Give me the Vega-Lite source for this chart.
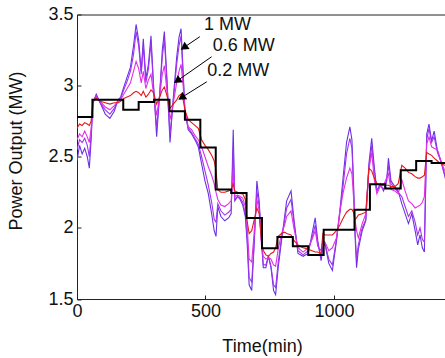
{
  "$schema": "https://vega.github.io/schema/vega-lite/v6.json",
  "width": 370,
  "height": 284.5,
  "autosize": "none",
  "padding": {"left": 77, "top": 14.5, "right": 0, "bottom": 59},
  "background": "white",
  "config": {
    "view": {"stroke": "#222", "strokeWidth": 1},
    "axis": {
      "labelFont": "Liberation Sans",
      "titleFont": "Liberation Sans",
      "labelFontSize": 18,
      "titleFontSize": 18,
      "labelColor": "#111",
      "titleColor": "#111",
      "titleFontWeight": "normal",
      "domainColor": "#222",
      "tickColor": "#222",
      "tickSize": -4,
      "grid": false
    }
  },
  "datasets": {
    "series": [
      {"t": 0, "A": 2.47, "B": 2.55, "C": 2.62, "D": 2.70},
      {"t": 10, "A": 2.58, "B": 2.62, "C": 2.66, "D": 2.73},
      {"t": 20, "A": 2.52, "B": 2.60, "C": 2.64, "D": 2.72},
      {"t": 30, "A": 2.56, "B": 2.63, "C": 2.68, "D": 2.74},
      {"t": 40, "A": 2.50, "B": 2.58, "C": 2.64, "D": 2.73},
      {"t": 48, "A": 2.42, "B": 2.50, "C": 2.60, "D": 2.72},
      {"t": 55, "A": 2.62, "B": 2.66, "C": 2.70, "D": 2.75},
      {"t": 62, "A": 2.88, "B": 2.88, "C": 2.89, "D": 2.90},
      {"t": 75, "A": 2.94, "B": 2.93, "C": 2.92, "D": 2.91},
      {"t": 90, "A": 2.88, "B": 2.88, "C": 2.89, "D": 2.89},
      {"t": 110, "A": 2.80, "B": 2.83, "C": 2.85, "D": 2.88},
      {"t": 128, "A": 2.77, "B": 2.80, "C": 2.83, "D": 2.87},
      {"t": 145, "A": 2.82, "B": 2.84, "C": 2.86, "D": 2.88},
      {"t": 160, "A": 2.90, "B": 2.90, "C": 2.89, "D": 2.88},
      {"t": 170, "A": 2.92, "B": 2.91, "C": 2.90, "D": 2.89},
      {"t": 182, "A": 2.99, "B": 2.97, "C": 2.94, "D": 2.91},
      {"t": 195, "A": 3.06, "B": 3.03, "C": 2.98, "D": 2.92},
      {"t": 208, "A": 3.13, "B": 3.10, "C": 3.02, "D": 2.93},
      {"t": 220, "A": 3.28, "B": 3.22, "C": 3.10, "D": 2.95},
      {"t": 230, "A": 3.43, "B": 3.38, "C": 3.17, "D": 2.96},
      {"t": 240, "A": 3.32, "B": 3.28, "C": 3.12, "D": 2.95},
      {"t": 250, "A": 3.10, "B": 3.08, "C": 3.02, "D": 2.93},
      {"t": 258, "A": 3.33, "B": 3.28, "C": 3.10, "D": 2.96},
      {"t": 268, "A": 3.05, "B": 3.02, "C": 2.98, "D": 2.92},
      {"t": 278, "A": 3.15, "B": 3.12, "C": 3.04, "D": 2.94},
      {"t": 288, "A": 3.35, "B": 3.30, "C": 3.08, "D": 2.97},
      {"t": 298, "A": 3.00, "B": 2.98, "C": 2.94, "D": 2.95},
      {"t": 310, "A": 2.64, "B": 2.70, "C": 2.79, "D": 2.87},
      {"t": 322, "A": 2.95, "B": 2.94, "C": 2.93, "D": 2.92},
      {"t": 332, "A": 3.25, "B": 3.20, "C": 3.08, "D": 2.97},
      {"t": 340, "A": 3.38, "B": 3.33, "C": 3.14, "D": 2.99},
      {"t": 350, "A": 3.05, "B": 3.02, "C": 2.96, "D": 2.93},
      {"t": 362, "A": 2.60, "B": 2.66, "C": 2.76, "D": 2.84},
      {"t": 375, "A": 2.92, "B": 2.90, "C": 2.88, "D": 2.87},
      {"t": 388, "A": 3.20, "B": 3.15, "C": 3.02, "D": 2.90},
      {"t": 397, "A": 3.34, "B": 3.28, "C": 3.10, "D": 2.93},
      {"t": 405, "A": 3.40, "B": 3.35, "C": 3.15, "D": 2.94},
      {"t": 413, "A": 3.10, "B": 3.06, "C": 3.00, "D": 2.90},
      {"t": 420, "A": 2.82, "B": 2.82, "C": 2.83, "D": 2.83},
      {"t": 433, "A": 2.69, "B": 2.70, "C": 2.71, "D": 2.76},
      {"t": 446, "A": 2.66, "B": 2.67, "C": 2.69, "D": 2.74},
      {"t": 459, "A": 2.62, "B": 2.63, "C": 2.65, "D": 2.72},
      {"t": 472, "A": 2.57, "B": 2.59, "C": 2.62, "D": 2.70},
      {"t": 485, "A": 2.45, "B": 2.50, "C": 2.57, "D": 2.62},
      {"t": 498, "A": 2.33, "B": 2.40, "C": 2.50, "D": 2.58},
      {"t": 511, "A": 2.24, "B": 2.30, "C": 2.43, "D": 2.55},
      {"t": 524, "A": 2.10, "B": 2.18, "C": 2.37, "D": 2.51},
      {"t": 534, "A": 1.98, "B": 2.06, "C": 2.31, "D": 2.47},
      {"t": 541, "A": 1.94, "B": 2.04, "C": 2.25, "D": 2.40},
      {"t": 548, "A": 2.15, "B": 2.17, "C": 2.20, "D": 2.27},
      {"t": 560, "A": 2.08, "B": 2.12, "C": 2.16, "D": 2.25},
      {"t": 575, "A": 2.05, "B": 2.09, "C": 2.15, "D": 2.25},
      {"t": 590, "A": 2.07, "B": 2.11, "C": 2.17, "D": 2.26},
      {"t": 600, "A": 2.10, "B": 2.13, "C": 2.19, "D": 2.27},
      {"t": 608, "A": 2.69, "B": 2.55, "C": 2.40, "D": 2.31},
      {"t": 614, "A": 2.19, "B": 2.20, "C": 2.22, "D": 2.26},
      {"t": 625, "A": 2.22, "B": 2.22, "C": 2.23, "D": 2.25},
      {"t": 635, "A": 2.20, "B": 2.21, "C": 2.22, "D": 2.24},
      {"t": 645, "A": 2.16, "B": 2.18, "C": 2.21, "D": 2.24},
      {"t": 655, "A": 2.08, "B": 2.10, "C": 2.15, "D": 2.20},
      {"t": 662, "A": 1.90, "B": 1.95, "C": 2.02, "D": 2.05},
      {"t": 670, "A": 1.60, "B": 1.65, "C": 1.78, "D": 1.96},
      {"t": 680, "A": 1.56, "B": 1.62, "C": 1.76, "D": 1.98},
      {"t": 690, "A": 1.90, "B": 1.92, "C": 1.98, "D": 2.06},
      {"t": 700, "A": 2.33, "B": 2.26, "C": 2.20, "D": 2.14},
      {"t": 709, "A": 2.19, "B": 2.15, "C": 2.12, "D": 2.10},
      {"t": 718, "A": 1.92, "B": 1.90, "C": 1.88, "D": 1.91},
      {"t": 725, "A": 1.72, "B": 1.74, "C": 1.80, "D": 1.84},
      {"t": 735, "A": 1.72, "B": 1.74, "C": 1.78, "D": 1.81},
      {"t": 745, "A": 1.80, "B": 1.80, "C": 1.79, "D": 1.80},
      {"t": 755, "A": 1.72, "B": 1.73, "C": 1.78, "D": 1.82},
      {"t": 765, "A": 1.56, "B": 1.60, "C": 1.74, "D": 1.83},
      {"t": 773, "A": 1.53, "B": 1.58, "C": 1.73, "D": 1.86},
      {"t": 783, "A": 1.72, "B": 1.76, "C": 1.85, "D": 1.94},
      {"t": 796, "A": 1.91, "B": 1.93, "C": 1.96, "D": 1.96},
      {"t": 808, "A": 2.08, "B": 2.05, "C": 2.02, "D": 1.97},
      {"t": 816, "A": 2.19, "B": 2.14, "C": 2.08, "D": 1.96},
      {"t": 833, "A": 2.26, "B": 2.20, "C": 2.12, "D": 1.95},
      {"t": 845, "A": 2.05, "B": 2.03, "C": 1.99, "D": 1.91},
      {"t": 860, "A": 1.82, "B": 1.84, "C": 1.86, "D": 1.88},
      {"t": 880, "A": 1.80, "B": 1.81, "C": 1.83, "D": 1.86},
      {"t": 900, "A": 1.82, "B": 1.84, "C": 1.86, "D": 1.85},
      {"t": 915, "A": 1.96, "B": 1.93, "C": 1.92, "D": 1.84},
      {"t": 927, "A": 2.07, "B": 2.02, "C": 1.98, "D": 1.83},
      {"t": 937, "A": 1.91, "B": 1.89, "C": 1.87, "D": 1.83},
      {"t": 950, "A": 1.77, "B": 1.79, "C": 1.84, "D": 1.82},
      {"t": 957, "A": 1.86, "B": 1.87, "C": 1.91, "D": 1.96},
      {"t": 965, "A": 1.89, "B": 1.89, "C": 1.90, "D": 1.95},
      {"t": 980, "A": 1.75, "B": 1.78, "C": 1.84, "D": 1.95},
      {"t": 994, "A": 1.70, "B": 1.74, "C": 1.86, "D": 1.95},
      {"t": 1010, "A": 1.91, "B": 1.92, "C": 1.93, "D": 1.98},
      {"t": 1023, "A": 2.12, "B": 2.10, "C": 2.12, "D": 2.02},
      {"t": 1036, "A": 2.36, "B": 2.30, "C": 2.25, "D": 2.07},
      {"t": 1049, "A": 2.60, "B": 2.52, "C": 2.35, "D": 2.11},
      {"t": 1062, "A": 2.71, "B": 2.63, "C": 2.42, "D": 2.13},
      {"t": 1070, "A": 2.62, "B": 2.56, "C": 2.38, "D": 2.13},
      {"t": 1076, "A": 2.33, "B": 2.30, "C": 2.22, "D": 2.11},
      {"t": 1082, "A": 1.95, "B": 1.98, "C": 2.06, "D": 2.06},
      {"t": 1088, "A": 1.72, "B": 1.78, "C": 1.98, "D": 2.07},
      {"t": 1095, "A": 1.85, "B": 1.88, "C": 1.93, "D": 2.09},
      {"t": 1110, "A": 1.98, "B": 2.00, "C": 2.03, "D": 2.10},
      {"t": 1124, "A": 2.05, "B": 2.06, "C": 2.10, "D": 2.11},
      {"t": 1136, "A": 2.45, "B": 2.42, "C": 2.41, "D": 2.42},
      {"t": 1147, "A": 2.63, "B": 2.58, "C": 2.53, "D": 2.40},
      {"t": 1157, "A": 2.43, "B": 2.40, "C": 2.34, "D": 2.35},
      {"t": 1167, "A": 2.26, "B": 2.26, "C": 2.24, "D": 2.31},
      {"t": 1180, "A": 2.31, "B": 2.30, "C": 2.29, "D": 2.30},
      {"t": 1193, "A": 2.26, "B": 2.27, "C": 2.30, "D": 2.30},
      {"t": 1205, "A": 2.33, "B": 2.33, "C": 2.35, "D": 2.30},
      {"t": 1212, "A": 2.49, "B": 2.44, "C": 2.38, "D": 2.30},
      {"t": 1222, "A": 2.33, "B": 2.31, "C": 2.27, "D": 2.29},
      {"t": 1237, "A": 2.29, "B": 2.28, "C": 2.26, "D": 2.29},
      {"t": 1250, "A": 2.26, "B": 2.25, "C": 2.24, "D": 2.31},
      {"t": 1264, "A": 2.17, "B": 2.22, "C": 2.34, "D": 2.44},
      {"t": 1277, "A": 2.10, "B": 2.15, "C": 2.26, "D": 2.42},
      {"t": 1290, "A": 2.03, "B": 2.08, "C": 2.19, "D": 2.39},
      {"t": 1303, "A": 2.10, "B": 2.12, "C": 2.17, "D": 2.38},
      {"t": 1316, "A": 1.98, "B": 2.04, "C": 2.14, "D": 2.36},
      {"t": 1326, "A": 1.88, "B": 1.95, "C": 2.15, "D": 2.35},
      {"t": 1335, "A": 1.95, "B": 2.00, "C": 2.16, "D": 2.35},
      {"t": 1344, "A": 1.86, "B": 1.92, "C": 2.18, "D": 2.36},
      {"t": 1352, "A": 1.83, "B": 1.90, "C": 2.22, "D": 2.37},
      {"t": 1361, "A": 2.66, "B": 2.62, "C": 2.59, "D": 2.53},
      {"t": 1370, "A": 2.73, "B": 2.70, "C": 2.64, "D": 2.52},
      {"t": 1380, "A": 2.61, "B": 2.60, "C": 2.57, "D": 2.51},
      {"t": 1390, "A": 2.68, "B": 2.64, "C": 2.56, "D": 2.49},
      {"t": 1403, "A": 2.54, "B": 2.53, "C": 2.55, "D": 2.47},
      {"t": 1416, "A": 2.47, "B": 2.47, "C": 2.47, "D": 2.45},
      {"t": 1432, "A": 2.36, "B": 2.37, "C": 2.40, "D": 2.44},
      {"t": 1440, "A": 2.30, "B": 2.32, "C": 2.36, "D": 2.42}
    ],
    "schedule": [
      {"t": 0, "v": 2.78}, {"t": 60, "v": 2.90}, {"t": 120, "v": 2.90},
      {"t": 180, "v": 2.83}, {"t": 240, "v": 2.885}, {"t": 300, "v": 2.90},
      {"t": 360, "v": 2.82}, {"t": 420, "v": 2.76}, {"t": 480, "v": 2.565},
      {"t": 540, "v": 2.27}, {"t": 600, "v": 2.245}, {"t": 660, "v": 2.07},
      {"t": 720, "v": 1.856}, {"t": 780, "v": 1.935}, {"t": 840, "v": 1.87},
      {"t": 900, "v": 1.81}, {"t": 960, "v": 1.987}, {"t": 1020, "v": 1.987},
      {"t": 1080, "v": 2.128}, {"t": 1140, "v": 2.306}, {"t": 1200, "v": 2.276},
      {"t": 1260, "v": 2.405}, {"t": 1320, "v": 2.47}, {"t": 1380, "v": 2.456},
      {"t": 1440, "v": 2.456}
    ],
    "labels": [
      {"label": "1 MW", "t": 494, "v": 3.426},
      {"label": "0.6 MW", "t": 528, "v": 3.28},
      {"label": "0.2 MW", "t": 507, "v": 3.10}
    ],
    "arrows": [
      {"t": 478, "v": 3.344, "t2": 420, "v2": 3.273},
      {"t": 524, "v": 3.203, "t2": 394, "v2": 3.039},
      {"t": 505, "v": 3.027, "t2": 411, "v2": 2.921}
    ]
  },
  "layer": [
    {
      "data": {"name": "series"},
      "transform": [{"fold": ["A", "B", "C", "D"], "as": ["series", "power"]}],
      "mark": {"type": "line", "strokeWidth": 1.1, "clip": true},
      "encoding": {
        "x": {
          "field": "t", "type": "quantitative",
          "scale": {"domain": [0, 1440], "nice": false, "zero": false},
          "axis": {"title": "Time(min)", "values": [0, 500, 1000], "format": "d", "labelPadding": 7, "titlePadding": 17, "labelFlush": false}
        },
        "y": {
          "field": "power", "type": "quantitative",
          "scale": {"domain": [1.5, 3.5], "nice": false, "zero": false},
          "axis": {"title": "Power Output (MW)", "values": [1.5, 2, 2.5, 3, 3.5], "format": ".1~f", "labelPadding": 8, "titlePadding": 22, "titleY": 136, "labelFlush": false}
        },
        "color": {
          "field": "series", "type": "nominal",
          "scale": {"domain": ["A", "B", "C", "D"], "range": ["#6a30e6", "#a032ee", "#e030e6", "#e41a1a"]},
          "legend": null
        }
      }
    },
    {
      "data": {"name": "schedule"},
      "mark": {"type": "line", "interpolate": "step-after", "color": "#000", "strokeWidth": 2},
      "encoding": {
        "x": {"field": "t", "type": "quantitative"},
        "y": {"field": "v", "type": "quantitative"}
      }
    },
    {
      "data": {"name": "arrows"},
      "mark": {"type": "rule", "color": "#000", "strokeWidth": 1},
      "encoding": {
        "x": {"field": "t", "type": "quantitative"},
        "y": {"field": "v", "type": "quantitative"},
        "x2": {"field": "t2"},
        "y2": {"field": "v2"}
      }
    },
    {
      "data": {"name": "arrows"},
      "mark": {"type": "point", "shape": "triangle", "angle": 236, "filled": true, "color": "#000", "size": 80, "opacity": 1},
      "encoding": {
        "x": {"field": "t2", "type": "quantitative"},
        "y": {"field": "v2", "type": "quantitative"}
      }
    },
    {
      "data": {"name": "labels"},
      "mark": {"type": "text", "align": "left", "baseline": "middle", "font": "Liberation Sans", "fontSize": 18, "color": "#111"},
      "encoding": {
        "x": {"field": "t", "type": "quantitative"},
        "y": {"field": "v", "type": "quantitative"},
        "text": {"field": "label"}
      }
    }
  ]
}
